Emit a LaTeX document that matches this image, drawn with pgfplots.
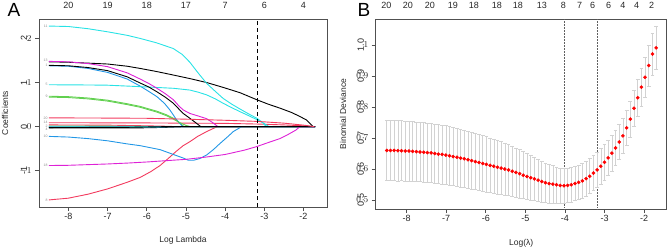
\documentclass[border=0pt]{standalone}
\usepackage{pgfplots}
\pgfplotsset{compat=1.18}
\usepackage{pgfplotstable}
\usepackage{fontspec}
\setmainfont{Liberation Sans}

% R 4.x default palette
\definecolor{rblack}{HTML}{000000}
\definecolor{rred}{HTML}{F23A5E}
\definecolor{rgreen}{HTML}{61D04F}
\definecolor{rblue}{HTML}{2297E6}
\definecolor{rcyan}{HTML}{28E2E5}
\definecolor{rmag}{HTML}{DE22D6}
\definecolor{framegray}{HTML}{505050}
\definecolor{barg}{HTML}{D2D2D2}

% cross-validated binomial deviance: log(lambda), mean, standard error
\pgfplotstableread{
x      y     e
-8.500 0.660 0.098
-8.407 0.660 0.098
-8.314 0.660 0.098
-8.220 0.659 0.098
-8.127 0.659 0.097
-8.034 0.658 0.097
-7.941 0.658 0.097
-7.848 0.657 0.097
-7.754 0.656 0.096
-7.661 0.655 0.096
-7.568 0.654 0.096
-7.475 0.653 0.096
-7.382 0.652 0.095
-7.288 0.650 0.095
-7.195 0.648 0.095
-7.102 0.647 0.095
-7.009 0.645 0.095
-6.916 0.643 0.094
-6.822 0.640 0.094
-6.729 0.638 0.094
-6.636 0.635 0.093
-6.543 0.633 0.093
-6.450 0.630 0.092
-6.356 0.627 0.092
-6.263 0.624 0.091
-6.170 0.621 0.091
-6.077 0.618 0.090
-5.984 0.615 0.089
-5.890 0.612 0.088
-5.797 0.609 0.087
-5.704 0.606 0.086
-5.611 0.603 0.085
-5.518 0.600 0.084
-5.424 0.597 0.082
-5.331 0.593 0.081
-5.238 0.589 0.079
-5.145 0.585 0.078
-5.052 0.580 0.076
-4.958 0.576 0.074
-4.865 0.572 0.072
-4.772 0.568 0.070
-4.679 0.564 0.068
-4.586 0.560 0.066
-4.492 0.556 0.064
-4.399 0.553 0.062
-4.306 0.551 0.060
-4.213 0.549 0.058
-4.120 0.547 0.056
-4.026 0.546 0.055
-3.933 0.547 0.055
-3.840 0.549 0.055
-3.747 0.553 0.055
-3.654 0.557 0.055
-3.560 0.562 0.055
-3.467 0.569 0.056
-3.374 0.577 0.056
-3.281 0.587 0.056
-3.188 0.597 0.057
-3.094 0.609 0.057
-3.001 0.622 0.057
-2.908 0.636 0.057
-2.815 0.651 0.057
-2.722 0.668 0.057
-2.628 0.687 0.057
-2.535 0.707 0.057
-2.442 0.733 0.058
-2.349 0.761 0.058
-2.256 0.796 0.059
-2.162 0.830 0.060
-2.069 0.864 0.062
-1.976 0.896 0.064
-1.883 0.934 0.066
-1.790 0.971 0.068
-1.696 0.991 0.070
}\devtab

\pgfplotsset{
  rstyle/.style={
    scale only axis,
    clip mode=individual,
    axis line style={framegray, line width=0.8pt},
    tick style={framegray, line width=0.8pt},
    tick align=outside,
    major tick length=4pt,
    xtick pos=bottom, ytick pos=left,
    ticklabel style={font=\fontsize{9}{10}\selectfont, text=black!85},
    label style={font=\fontsize{8.5}{10}\selectfont, text=black!85},
    xticklabel style={anchor=north, inner sep=0pt, yshift=-2pt},
    yticklabel={},
  },
  coef/.style={line width=0.9pt},
}
\tikzset{
  topnum/.style={font=\fontsize{9}{10}\selectfont, text=black!85, inner sep=0pt},
  ylab/.style={xshift=-15pt, rotate=90, font=\fontsize{9}{10}\selectfont, text=black!85, inner sep=0pt, anchor=center},
  lab/.style={font=\fontsize{3.5}{4}\selectfont, text=black!45, anchor=east, inner sep=0.3pt},
}

\begin{document}
\begin{tikzpicture}
\useasboundingbox (0,0) rectangle (669pt,249pt);

\node[font=\fontsize{19}{20}\selectfont] at (14pt,239pt) {A};
\node[font=\fontsize{19}{20}\selectfont] at (364pt,239pt) {B};

% ---------------- coefficient paths ----------------
\begin{axis}[rstyle,
  at={(39pt,42pt)}, anchor=south west,
  width=288pt, height=188pt,
  xmin=-8.75, xmax=-1.40, ymin=-1.82, ymax=2.44,
  xtick={-8,-7,-6,-5,-4,-3,-2},
  xticklabels={-8,-7,-6,-5,-4,-3,-2},
  ytick={-1,0,1,2},
  xlabel={Log Lambda}, ylabel={Coefficients},
  xlabel style={at={(axis description cs:0.5,-0.1755)}, anchor=center},
  ylabel style={at={(axis description cs:-0.118,0.5)}, anchor=center},
]
\addplot[coef, rblack] coordinates {(-8.5,1.47) (-8,1.46) (-7.5,1.44) (-7,1.42) (-6.5,1.37) (-6.17,1.32) (-5.75,1.25) (-5.32,1.17) (-4.9,1.09) (-4.47,1.00) (-4.05,0.89) (-3.62,0.77) (-3.19,0.61) (-2.9,0.51) (-2.6,0.42) (-2.3,0.32) (-2.09,0.23) (-1.92,0.15) (-1.75,0) (-1.7,0)};
\addplot[coef, rred] coordinates {(-8.5,0.09) (-6,0.085) (-4,0.075) (-3.19,0.06) (-2.5,0.04) (-2,0.02) (-1.72,0)};
\addplot[coef, rgreen] coordinates {(-8.5,0.69) (-8,0.68) (-7.5,0.65) (-7,0.60) (-6.5,0.52) (-6.17,0.46) (-5.74,0.35) (-5.5,0.27) (-5.32,0.19) (-5.2,0.11) (-5.1,0.04) (-5.05,0) (-1.7,0)};
\addplot[coef, rblue] coordinates {(-8.5,1.38) (-8,1.37) (-7.5,1.32) (-7,1.23) (-6.5,1.08) (-6.17,0.92) (-5.95,0.80) (-5.74,0.68) (-5.55,0.53) (-5.41,0.38) (-5.25,0.17) (-5.08,0) (-1.7,0)};
\addplot[coef, rcyan] coordinates {(-8.5,0.95) (-7.5,0.945) (-7,0.94) (-6.5,0.92) (-6,0.90) (-5.32,0.87) (-4.9,0.83) (-4.68,0.78) (-4.47,0.72) (-4.25,0.63) (-4.05,0.53) (-3.83,0.43) (-3.62,0.34) (-3.4,0.25) (-3.19,0.16) (-3.0,0.07) (-2.88,0) (-1.7,0)};
\addplot[coef, rmag] coordinates {(-8.5,1.48) (-8,1.47) (-7.5,1.43) (-7,1.36) (-6.5,1.22) (-6.17,1.08) (-5.95,0.98) (-5.74,0.87) (-5.53,0.75) (-5.32,0.61) (-5.18,0.47) (-5.07,0.38) (-4.9,0.30) (-4.68,0.24) (-4.47,0.18) (-4.33,0.10) (-4.18,0) (-1.7,0)};
\addplot[coef, rblack] coordinates {(-8.5,-0.03) (-7,-0.03) (-6,-0.025) (-5.5,-0.015) (-5.05,0) (-1.7,0)};
\addplot[coef, rred] coordinates {(-8.5,-1.66) (-8,-1.62) (-7.5,-1.53) (-7,-1.41) (-6.5,-1.26) (-6.17,-1.15) (-5.9,-1.02) (-5.66,-0.88) (-5.45,-0.72) (-5.25,-0.56) (-5.07,-0.43) (-4.9,-0.34) (-4.7,-0.22) (-4.47,-0.11) (-4.3,-0.04) (-4.2,0) (-1.7,0)};
\addplot[coef, rgreen] coordinates {(-8.5,0.67) (-8,0.66) (-7.5,0.63) (-7,0.58) (-6.5,0.50) (-6.17,0.44) (-5.74,0.33) (-5.5,0.25) (-5.32,0.17) (-5.15,0.09) (-5.0,0.03) (-4.88,0) (-1.7,0)};
\addplot[coef, rblue] coordinates {(-8.5,-0.22) (-8,-0.235) (-7.5,-0.27) (-7,-0.32) (-6.5,-0.39) (-6.17,-0.43) (-5.66,-0.52) (-5.32,-0.63) (-5.07,-0.71) (-4.94,-0.76) (-4.8,-0.76) (-4.64,-0.72) (-4.47,-0.64) (-4.3,-0.52) (-4.13,-0.38) (-3.95,-0.24) (-3.79,-0.11) (-3.58,0) (-1.7,0)};
\addplot[coef, rcyan] coordinates {(-8.5,2.28) (-8,2.27) (-7.5,2.22) (-7,2.15) (-6.5,2.07) (-6.17,2.00) (-5.75,1.90) (-5.32,1.77) (-5.1,1.64) (-4.9,1.46) (-4.7,1.23) (-4.47,0.98) (-4.25,0.80) (-4.05,0.64) (-3.83,0.51) (-3.62,0.40) (-3.4,0.29) (-3.19,0.19) (-3.05,0.10) (-2.95,0) (-1.7,0)};
\addplot[coef, rmag] coordinates {(-8.5,0.01) (-6,0.005) (-5.8,0) (-1.7,0)};
\addplot[coef, rblack] coordinates {(-8.5,1.39) (-8,1.38) (-7.5,1.34) (-7,1.27) (-6.5,1.13) (-6.17,0.99) (-5.95,0.90) (-5.74,0.79) (-5.53,0.67) (-5.32,0.53) (-5.18,0.40) (-5.07,0.30) (-4.9,0.19) (-4.75,0.09) (-4.62,0) (-1.7,0)};
\addplot[coef, rred] coordinates {(-8.5,0.04) (-7,0.035) (-6,0.02) (-5.5,0.01) (-5.2,0) (-1.7,0)};
\addplot[coef, rgreen] coordinates {(-8.5,0.015) (-6.5,0.01) (-5.6,0) (-1.7,0)};
\addplot[coef, rblue] coordinates {(-8.5,-0.01) (-6,-0.008) (-5.3,0) (-1.7,0)};
\addplot[coef, rcyan] coordinates {(-8.5,-0.005) (-6,-0.004) (-5.0,0) (-1.7,0)};
\addplot[coef, rmag] coordinates {(-8.5,-0.88) (-8,-0.875) (-7.5,-0.86) (-7,-0.845) (-6.5,-0.825) (-6,-0.80) (-5.5,-0.77) (-5,-0.74) (-4.5,-0.69) (-4,-0.63) (-3.5,-0.53) (-3.19,-0.45) (-2.9,-0.36) (-2.6,-0.27) (-2.4,-0.18) (-2.2,-0.08) (-2.09,0) (-1.7,0)};
\addplot[coef, rblack] coordinates {(-8.5,-0.02) (-6.5,-0.015) (-5.6,0) (-1.7,0)};
\addplot[coef, rred] coordinates {(-8.5,0.20) (-7,0.195) (-6,0.19) (-5,0.17) (-4,0.145) (-3.19,0.12) (-2.5,0.08) (-2,0.035) (-1.72,0)};

% selected log(lambda) from cross-validation
\addplot[rblack, line width=1pt, dash pattern=on 4pt off 3pt] coordinates {(-3.18,-1.82) (-3.18,2.44)};

% y tick labels, set parallel to the axis
\node[ylab] at (axis cs:-8.75,-1) {-1};
\node[ylab] at (axis cs:-8.75,0) {0};
\node[ylab] at (axis cs:-8.75,1) {1};
\node[ylab] at (axis cs:-8.75,2) {2};

% variable numbers at the start of each path
\node[lab] at (axis cs:-8.52,2.28) {11};
\node[lab] at (axis cs:-8.52,1.51) {13};
\node[lab] at (axis cs:-8.52,1.38) {1};
\node[lab] at (axis cs:-8.52,0.95) {5};
\node[lab] at (axis cs:-8.52,0.68) {9};
\node[lab] at (axis cs:-8.52,0.20) {20};
\node[lab] at (axis cs:-8.52,0.10) {14};
\node[lab] at (axis cs:-8.52,0.02) {2};
\node[lab] at (axis cs:-8.52,-0.05) {4};
\node[lab] at (axis cs:-8.52,-0.22) {10};
\node[lab] at (axis cs:-8.52,-0.88) {18};
\node[lab] at (axis cs:-8.52,-1.66) {8};

% number of nonzero coefficients
\node[topnum] at (axis cs:-8,2.44) [yshift=14pt] {20};
\node[topnum] at (axis cs:-7,2.44) [yshift=14pt] {19};
\node[topnum] at (axis cs:-6,2.44) [yshift=14pt] {18};
\node[topnum] at (axis cs:-5,2.44) [yshift=14pt] {17};
\node[topnum] at (axis cs:-4,2.44) [yshift=14pt] {7};
\node[topnum] at (axis cs:-3,2.44) [yshift=14pt] {6};
\node[topnum] at (axis cs:-2,2.44) [yshift=14pt] {4};
\end{axis}

% ---------------- cross-validation curve ----------------
\begin{axis}[rstyle,
  at={(375.7pt,40pt)}, anchor=south west,
  width=291pt, height=190pt,
  xmin=-8.78, xmax=-1.43, ymin=0.471, ymax=1.084,
  xtick={-8,-7,-6,-5,-4,-3,-2},
  xticklabels={-8,-7,-6,-5,-4,-3,-2},
  ytick={0.5,0.6,0.7,0.8,0.9,1.0},
  xlabel={Log(λ)}, ylabel={Binomial Deviance},
  xlabel style={at={(axis description cs:0.5,-0.179)}, anchor=center},
  ylabel style={at={(axis description cs:-0.112,0.5)}, anchor=center},
]
\addplot[gray!75!black, line width=0.5pt, densely dotted] coordinates {(-4.026,0.471) (-4.026,1.084)};
\addplot[gray!75!black, line width=0.5pt, densely dotted] coordinates {(-3.188,0.471) (-3.188,1.084)};
\addplot[only marks, mark=*, mark size=1.6pt, mark options={fill=red, draw=red},
  error bars/.cd, y dir=both, y explicit,
  error bar style={barg, line width=0.6pt},
  error mark options={rotate=90, barg, line width=0.6pt, mark size=1.9pt}]
  table[x=x, y=y, y error=e] {\devtab};

\node[ylab] at (axis cs:-8.78,0.5) {0.5};
\node[ylab] at (axis cs:-8.78,0.6) {0.6};
\node[ylab] at (axis cs:-8.78,0.7) {0.7};
\node[ylab] at (axis cs:-8.78,0.8) {0.8};
\node[ylab] at (axis cs:-8.78,0.9) {0.9};
\node[ylab] at (axis cs:-8.78,1.0) {1.0};

\node[topnum] at (axis cs:-8.51,1.084) [yshift=14pt] {20};
\node[topnum] at (axis cs:-7.97,1.084) [yshift=14pt] {20};
\node[topnum] at (axis cs:-7.41,1.084) [yshift=14pt] {20};
\node[topnum] at (axis cs:-6.83,1.084) [yshift=14pt] {19};
\node[topnum] at (axis cs:-6.30,1.084) [yshift=14pt] {18};
\node[topnum] at (axis cs:-5.72,1.084) [yshift=14pt] {18};
\node[topnum] at (axis cs:-5.19,1.084) [yshift=14pt] {18};
\node[topnum] at (axis cs:-4.58,1.084) [yshift=14pt] {13};
\node[topnum] at (axis cs:-4.04,1.084) [yshift=14pt] {8};
\node[topnum] at (axis cs:-3.63,1.084) [yshift=14pt] {7};
\node[topnum] at (axis cs:-3.30,1.084) [yshift=14pt] {6};
\node[topnum] at (axis cs:-2.90,1.084) [yshift=14pt] {6};
\node[topnum] at (axis cs:-2.54,1.084) [yshift=14pt] {4};
\node[topnum] at (axis cs:-2.19,1.084) [yshift=14pt] {4};
\node[topnum] at (axis cs:-1.81,1.084) [yshift=14pt] {2};
\end{axis}
\end{tikzpicture}
\end{document}
